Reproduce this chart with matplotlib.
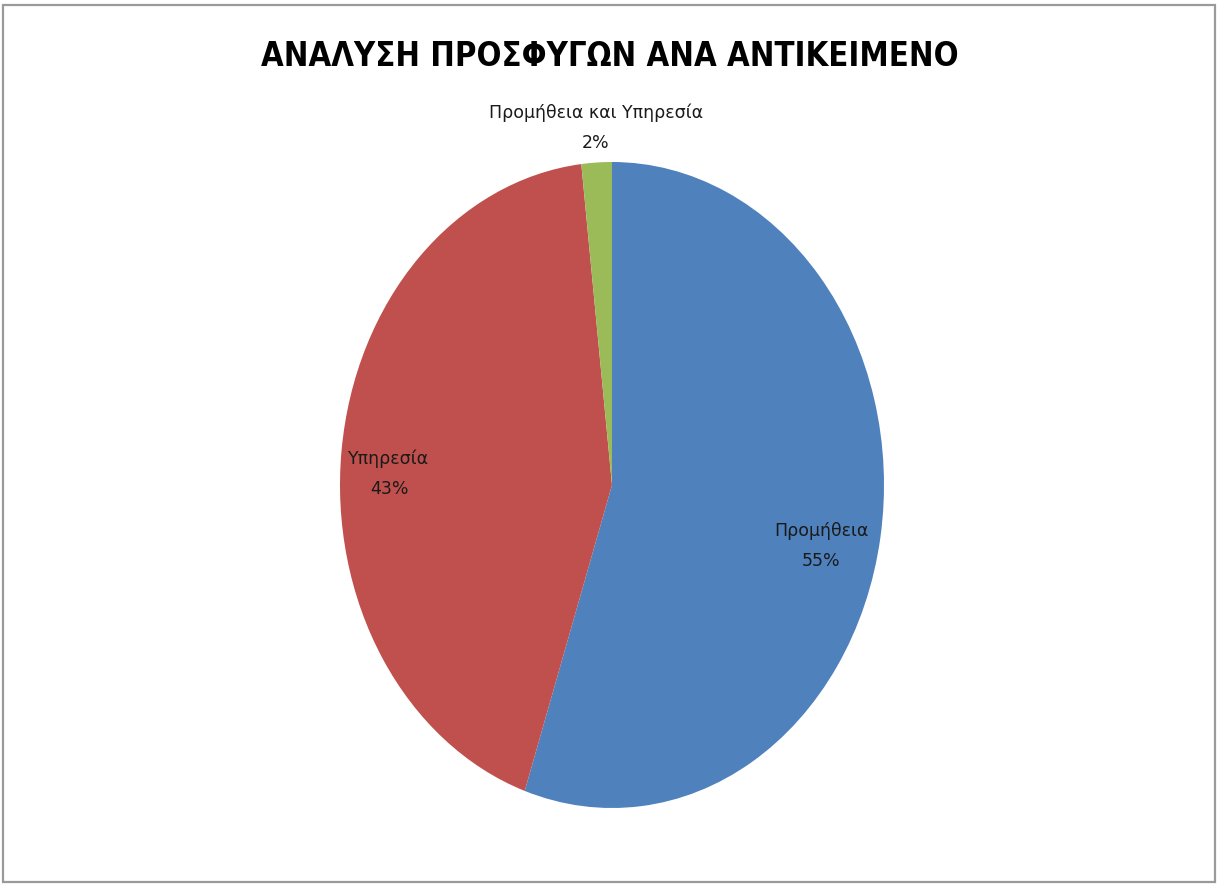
import matplotlib
matplotlib.use("Agg")
import matplotlib.pyplot as plt
from matplotlib.patches import Rectangle

# data
categories = ["Προμήθεια", "Υπηρεσία", "Προμήθεια και Υπηρεσία"]
shares = [55.2, 43.0, 1.8]
pct_labels = ["55%", "43%", "2%"]
colors = ["#4F81BD", "#C0504D", "#9BBB59"]

# label anchors in axes coords (Excel "best fit" placement)
label_pos = [(0.77, -0.19), (-0.82, 0.035), (-0.06, 1.105)]

W, H = 1220, 884
fig = plt.figure(figsize=(W / 100, H / 100), dpi=100)
fig.patch.set_facecolor("white")

# outer chart frame
fig.add_artist(Rectangle((3 / W, 2 / H), 1212 / W, 877 / H,
                         transform=fig.transFigure, fill=False,
                         edgecolor="#9a9a9a", lw=1.6))

# the pie in the original is stretched vertically (ellipse)
ax = fig.add_axes([340 / W, (H - 808) / H, 544 / W, 646 / H])
ax.pie(shares, colors=colors, startangle=90, counterclock=False,
       wedgeprops=dict(linewidth=0))
ax.set_aspect("auto")
ax.set_xlim(-1, 1)
ax.set_ylim(-1, 1)

for name, pct, (x, y) in zip(categories, pct_labels, label_pos):
    ax.text(x, y, f"{name}\n{pct}", ha="center", va="center",
            fontsize=12.5, color="#1a1a1a", linespacing=1.85,
            clip_on=False)

fig.text(0.5, 1 - 56 / H, "ΑΝΑΛΥΣΗ ΠΡΟΣΦΥΓΩΝ ΑΝΑ ΑΝΤΙΚΕΙΜΕΝΟ",
         ha="center", va="center", fontsize=23.5, fontweight="bold",
         fontstretch="condensed", family="DejaVu Sans", color="black")

fig.savefig("out.png", dpi=100)
